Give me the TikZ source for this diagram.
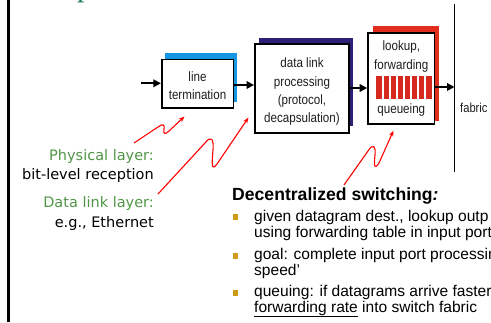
\documentclass[tikz,border=0pt]{standalone}
\usepackage{fontspec}
\setmainfont{Liberation Sans}
\newfontfamily\comic{DejaVu Sans}
\newfontfamily\serifp{Liberation Serif}
\newfontfamily\narrowf[FakeStretch=0.86]{Liberation Sans}
\usetikzlibrary{arrows.meta}
\definecolor{shblue}{RGB}{20,150,225}
\definecolor{shnavy}{RGB}{45,30,120}
\definecolor{shred}{RGB}{225,45,30}
\definecolor{qred}{RGB}{215,40,30}
\definecolor{lgreen}{RGB}{80,150,70}
\definecolor{tgreen}{RGB}{30,120,80}
\definecolor{gold}{RGB}{205,155,20}
\definecolor{txtgray}{RGB}{30,30,30}
\tikzset{
  box/.style={draw=black, line width=1.6pt, fill=white, inner sep=0pt},
  blbl/.style={font=\narrowf\fontsize{13.5}{15}\selectfont, text=txtgray, inner sep=0pt, anchor=base},
  arr/.style={line width=1.8pt, -{Triangle[length=7.5pt,width=7.5pt]}},
  squig/.style={red, line width=1.1pt, -{Stealth[length=6pt,width=4.5pt]}},
  left1/.style={font=\comic\fontsize{14.5}{16}\selectfont, inner sep=0pt, anchor=base east},
  btxt/.style={font=\fontsize{15.55}{16}\selectfont, inner sep=0pt, anchor=base west},
  bul/.style={fill=gold, minimum size=5.5pt, inner sep=0pt},
}
\begin{document}
\begin{tikzpicture}[x=1pt,y=-1pt]
\useasboundingbox (0,0) rectangle (491,322);
\clip (0,0) rectangle (491,322);
% left frame line
\coordinate (L1) at (8.5,0);
\coordinate (L2) at (8.5,322);
\draw[line width=2.4pt] (L1) -- (L2);
% top partial title letter
\node[text=tgreen, font=\serifp\fontsize{30}{32}\selectfont, inner sep=0pt, anchor=base west] (ttl) at (77,-4) {p};
% shadows
\fill[shblue] (165,53.3) rectangle (236.7,101.7);
\fill[shnavy] (259,38) rectangle (353,126);
\fill[shred] (372.7,26) rectangle (438.7,120.7);
% boxes
\node[box, minimum width=71.6pt, minimum height=48.4pt] (lt) at (197.5,83.5) {};
\node[box, minimum width=94.3pt, minimum height=89pt] (dl) at (302,88.5) {};
\node[box, minimum width=66.7pt, minimum height=91pt] (lk) at (401.3,78.5) {};
% labels
\node[blbl] (lt1) at (197.5,81.5) {line};
\node[blbl] (lt2) at (197.5,99) {termination};
\node[blbl] (dl1) at (302,67.5) {data link};
\node[blbl] (dl2) at (302,86) {processing};
\node[blbl] (dl3) at (302,104.3) {(protocol,};
\node[blbl] (dl4) at (302,122.5) {decapsulation)};
\node[blbl] (lk1) at (401.3,50) {lookup,};
\node[blbl] (lk2) at (401.3,69) {forwarding};
\node[blbl] (lk3) at (401.3,113.3) {queueing};
% queue
\fill[qred] (376,76) rectangle (432,99.3);
\foreach \k in {1,...,7}{\draw[white, line width=1.2pt] (376+7*\k,76) -- (376+7*\k,99.3);}
% fabric line
\coordinate (f1) at (454.5,4);
\coordinate (f2) at (454.5,172);
\draw[line width=1pt] (f1) -- (f2);
\node[font=\narrowf\fontsize{13}{14}\selectfont, text=txtgray, inner sep=0pt, anchor=base west] (fab) at (460,112) {fabric};
% arrows
\coordinate (yA) at (0,83.3);
\coordinate (yB) at (0,85);
\coordinate (yC) at (0,88);
\coordinate (yD) at (0,87);
\coordinate (in0) at (141,83.3);
\draw[arr] (in0) -- (lt.west |- yA);
\draw[arr] (lt.east |- yB) -- (dl.west |- yB);
\draw[arr] (dl.east |- yC) -- (lk.west |- yC);
\draw[arr] (lk.east |- yD) -- (f1 |- yD);
% left texts
\node[left1, text=lgreen] (ph1) at (154,160) {Physical layer:};
\node[left1] (ph2) at (154,179) {bit-level reception};
\node[left1, text=lgreen] (dk1) at (154,207.3) {Data link layer:};
\node[left1] (dk2) at (154,227) {e.g., Ethernet};
% squiggles
\coordinate (s1) at (134,143);
\coordinate (t1) at (184.5,116.5);
\coordinate (s2) at (158,194);
\coordinate (t2) at (248.5,117.5);
\coordinate (s3) at (344,185);
\coordinate (t3) at (393.5,130.5);
\draw[squig] (s1) -- (158,127) .. controls (163,123) and (165,125) .. (164,129) .. controls (163,134) and (165,135) .. (169,131) -- (t1);
\draw[squig] (s2) -- (205,143) .. controls (211,135) and (214,139) .. (213,150) .. controls (212,163) and (211,172) .. (217,164) -- (t2);
\draw[squig] (s3) -- (368,151) .. controls (373,143) and (376,146) .. (375,155) .. controls (374,165) and (374,171) .. (379,163) -- (t3);
% right text block
\node[font=\bfseries\fontsize{17.6}{19}\selectfont, inner sep=0pt, anchor=base west] (hd) at (232,200) {Decentralized switching\textit{:}};
\node[bul] (b1) at (235.5,217) {};
\node[bul] (b2) at (235.5,256) {};
\node[bul] (b3) at (235.5,293) {};
\node[btxt] (x1) at (254,221) {given datagram dest., lookup outp};
\node[btxt] (x2) at (254,237) {using forwarding table in input port};
\node[btxt] (x3) at (254,259.5) {goal: complete input port processin};
\node[btxt] (x4) at (254,275) {speed'};
\node[btxt] (x5) at (254,296.5) {queuing: if datagrams arrive faster};
\node[btxt] (x6) at (254,312) {\underline{forwarding rate} into switch fabric};
\end{tikzpicture}
\end{document}
